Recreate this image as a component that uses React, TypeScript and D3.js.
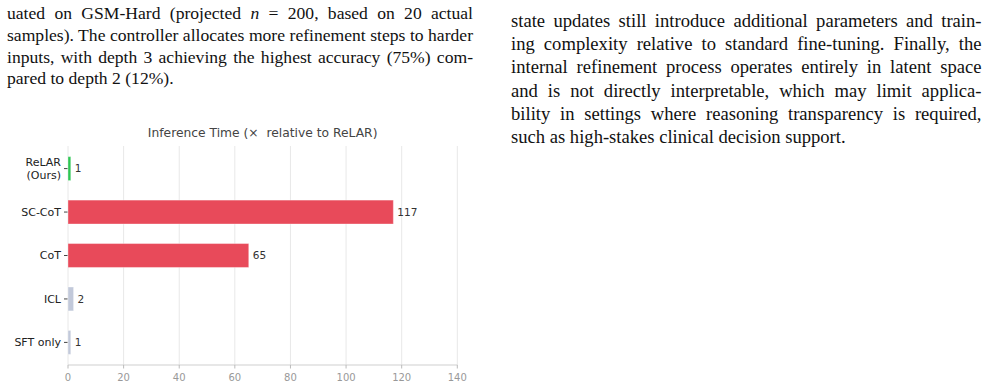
import React, { useEffect, useRef } from "react";
import * as d3 from "d3";

const categories = ["ReLAR\n(Ours)", "SC-CoT", "CoT", "ICL", "SFT only"];
const values = [1, 117, 65, 2, 1];
const groups = ["ours", "costly", "costly", "cheap", "cheap"];
const xTicks = [0, 20, 40, 60, 80, 100, 120, 140];
const chartTitle = "Inference Time (\u00d7\u00a0 relative to ReLAR)";

const leftLines = [
  { parts: [["uated on GSM-Hard (projected ", false], ["n", true], [" = 200, based on 20 actual", false]], justify: true },
  { parts: [["samples). The controller allocates more refinement steps to harder", false]], justify: true },
  { parts: [["inputs, with depth 3 achieving the highest accuracy (75%) com-", false]], justify: true },
  { parts: [["pared to depth 2 (12%).", false]], justify: false },
];
const rightLines = [
  { parts: [["state updates still introduce additional parameters and train-", false]], justify: true },
  { parts: [["ing complexity relative to standard fine-tuning. Finally, the", false]], justify: true },
  { parts: [["internal refinement process operates entirely in latent space", false]], justify: true },
  { parts: [["and is not directly interpretable, which may limit applica-", false]], justify: true },
  { parts: [["bility in settings where reasoning transparency is required,", false]], justify: true },
  { parts: [["such as high-stakes clinical decision support.", false]], justify: false },
];

const colorFor: Record<string, string> = { ours: "#2DC653", costly: "#E84A5A", cheap: "#C2C9DA" };

export default function App() {
  const ref = useRef<SVGSVGElement>(null);
  useEffect(() => {
    const svg = d3.select(ref.current);
    svg.selectAll("*").remove();

    const drawColumn = (lines: any[], x0: number, x1: number, baselines: number[], fs: number) => {
      lines.forEach((ln, i) => {
        const t = svg
          .append("text")
          .attr("x", x0)
          .attr("y", baselines[i])
          .attr("font-family", "'Liberation Serif', 'Times New Roman', serif")
          .attr("font-size", fs)
          .attr("fill", "#111");
        ln.parts.forEach((p: any) => {
          t.append("tspan").attr("font-style", p[1] ? "italic" : "normal").text(p[0]);
        });
        if (ln.justify) {
          const node = t.node() as SVGTextElement;
          const w = node.getComputedTextLength();
          const full = ln.parts.map((p: any) => p[0]).join("");
          const spaces = (full.match(/ /g) || []).length;
          if (spaces > 0) t.attr("word-spacing", (x1 - x0 - w) / spaces);
        }
      });
    };
    drawColumn(leftLines, 7, 473, [19, 41, 62.5, 84], 17.6);
    drawColumn(rightLines, 511, 981.5, [26.7, 50, 73.3, 96.7, 120, 143.3], 18.6);

    // chart
    const x = d3.scaleLinear().domain([0, 140]).range([68, 457.3]);
    const y = d3.scaleBand<string>().domain(categories).range([146, 365]).paddingInner(0.45).paddingOuter(0.245);
    const g = svg.append("g").attr("font-family", "'DejaVu Sans', sans-serif");

    g.append("text")
      .attr("x", (x(0) + x(140)) / 2)
      .attr("y", 136.5)
      .attr("text-anchor", "middle")
      .attr("font-size", 12.3)
      .attr("fill", "#444")
      .text(chartTitle);

    g.selectAll("line.grid")
      .data(xTicks)
      .join("line")
      .attr("x1", (d) => x(d))
      .attr("x2", (d) => x(d))
      .attr("y1", 146)
      .attr("y2", 365)
      .attr("stroke", "#e8e8e8")
      .attr("stroke-width", 1);

    g.append("line")
      .attr("x1", x(0))
      .attr("x2", x(140))
      .attr("y1", 365)
      .attr("y2", 365)
      .attr("stroke", "#cfcfcf");

    g.selectAll("line.xt")
      .data(xTicks)
      .join("line")
      .attr("x1", (d) => x(d))
      .attr("x2", (d) => x(d))
      .attr("y1", 365)
      .attr("y2", 368.5)
      .attr("stroke", "#bbb");

    g.selectAll("text.xl")
      .data(xTicks)
      .join("text")
      .attr("x", (d) => x(d))
      .attr("y", 380.6)
      .attr("text-anchor", "middle")
      .attr("font-size", 10)
      .attr("fill", "#999")
      .text((d) => String(d));

    const bh = y.bandwidth();
    g.selectAll("rect.bar")
      .data(categories)
      .join("rect")
      .attr("x", x(0))
      .attr("y", (d) => y(d)!)
      .attr("width", (d, i) => x(values[i]) - x(0))
      .attr("height", bh)
      .attr("fill", (d, i) => colorFor[groups[i]])
      .attr("stroke", "#fff")
      .attr("stroke-opacity", 0.35)
      .attr("stroke-width", 1);

    g.selectAll("text.val")
      .data(categories)
      .join("text")
      .attr("x", (d, i) => x(values[i]) + 4)
      .attr("y", (d) => y(d)! + bh / 2)
      .attr("dy", "0.35em")
      .attr("font-size", 10.5)
      .attr("fill", "#333")
      .text((d, i) => String(values[i]));

    g.selectAll("line.yt")
      .data(categories)
      .join("line")
      .attr("x1", 64)
      .attr("x2", 67.5)
      .attr("y1", (d) => y(d)! + bh / 2)
      .attr("y2", (d) => y(d)! + bh / 2)
      .attr("stroke", "#444");

    categories.forEach((c) => {
      const parts = c.split("\n");
      const cy = y(c)! + bh / 2;
      const t = g
        .append("text")
        .attr("x", 61)
        .attr("text-anchor", "end")
        .attr("font-size", 11)
        .attr("fill", "#222");
      parts.forEach((p, k) => {
        t.append("tspan")
          .attr("x", 61)
          .attr("y", cy + (k - (parts.length - 1) / 2) * 12.5)
          .attr("dy", "0.35em")
          .text(p);
      });
    });
  }, []);

  return (
    <div style={{ position: "fixed", left: 0, top: 0, width: 988, height: 386, background: "#fff" }}>
      <svg ref={ref} width={988} height={386} style={{ display: "block" }} />
    </div>
  );
}
